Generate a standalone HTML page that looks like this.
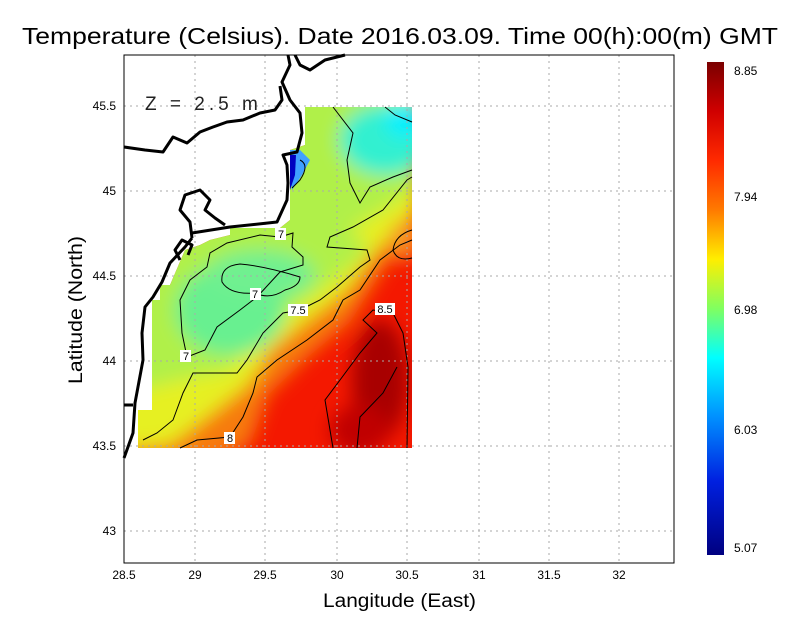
<!DOCTYPE html>
<html><head><meta charset="utf-8"><style>
body{margin:0;background:#fff}
svg{display:block;font-family:"Liberation Sans",sans-serif}
</style></head><body>
<svg width="800" height="618" viewBox="0 0 800 618" xmlns="http://www.w3.org/2000/svg">
<defs>
<filter id="b" x="-20%" y="-20%" width="140%" height="140%"><feGaussianBlur stdDeviation="9"/></filter>
<clipPath id="dc"><polygon points="138,448 138,410 152,410 152,300 160,300 160,285 170,285 185,250 200,245 210,240 230,235 230,228 280,228 290,220 290,150 305,145 305,107 412,107 412,448"/></clipPath>
<linearGradient id="cb" x1="0" y1="0" x2="0" y2="1">
<stop offset="0" stop-color="#7a0000"/><stop offset="0.1" stop-color="#d00000"/><stop offset="0.2" stop-color="#ff2a00"/><stop offset="0.3" stop-color="#ff7a00"/><stop offset="0.4" stop-color="#ffee00"/><stop offset="0.5" stop-color="#80ff60"/><stop offset="0.6" stop-color="#00ffff"/><stop offset="0.72" stop-color="#0090ff"/><stop offset="0.85" stop-color="#0020e0"/><stop offset="1" stop-color="#000080"/>
</linearGradient>
</defs>
<text x="22" y="44" font-size="23" textLength="756" lengthAdjust="spacingAndGlyphs">Temperature (Celsius). Date 2016.03.09. Time 00(h):00(m) GMT</text>
<g clip-path="url(#dc)">
<rect x="120" y="100" width="300" height="360" fill="#f41800"/>
<g filter="url(#b)">
<polygon points="100,470 200,470 250,445 268,395 310,355 350,322 388,262 420,245 420,60 100,60" fill="#f77a10"/>
<polygon points="100,450 170,445 210,415 248,385 270,350 305,322 345,292 375,252 420,205 420,60 100,60" fill="#e6f020"/>
<polygon points="100,400 180,380 230,370 260,335 300,305 340,275 370,250 350,230 390,205 420,185 420,60 100,60" fill="#b0f048"/>
<ellipse cx="230" cy="310" rx="55" ry="45" fill="#68f090"/>
<ellipse cx="260" cy="275" rx="55" ry="25" fill="#70f090"/>
<ellipse cx="385" cy="140" rx="45" ry="35" fill="#30f0d0"/>
<ellipse cx="405" cy="120" rx="20" ry="18" fill="#00f0ff"/>
<ellipse cx="380" cy="380" rx="28" ry="60" fill="#a80000"/>
<ellipse cx="360" cy="430" rx="30" ry="25" fill="#c00000"/>
<ellipse cx="405" cy="240" rx="15" ry="20" fill="#f89020"/>
</g>
<path d="M288,150 L300,150 L310,160 L302,175 L292,190 Z" fill="#40a0ff"/>
<path d="M289,155 L296,155 L295,175 L290,190 Z" fill="#0000c0"/>
</g>
<g stroke="#aaa" stroke-dasharray="2,4" stroke-width="1">
<line x1="195" y1="55" x2="195" y2="563"/><line x1="265" y1="55" x2="265" y2="563"/><line x1="337" y1="55" x2="337" y2="563"/><line x1="407" y1="55" x2="407" y2="563"/><line x1="479" y1="55" x2="479" y2="563"/><line x1="549" y1="55" x2="549" y2="563"/><line x1="619" y1="55" x2="619" y2="563"/>
<line x1="124" y1="106" x2="674" y2="106"/><line x1="124" y1="191" x2="674" y2="191"/><line x1="124" y1="276" x2="674" y2="276"/><line x1="124" y1="361" x2="674" y2="361"/><line x1="124" y1="446" x2="674" y2="446"/><line x1="124" y1="531" x2="674" y2="531"/>
</g>
<g fill="none" stroke="#000" stroke-width="1">
<polyline points="143,440 157,433 173,420 183,393 193,373 237,373 247,360 263,333 283,313 300,310 320,300 337,287 360,267 370,260 367,250 327,247 330,237 353,227 383,210 407,180 412,177"/>
<polyline points="180,448 197,440 230,437 243,417 253,393 257,377 277,360 307,340 333,320 343,300 360,290 380,260 400,245 412,240"/>
<path d="M412,230 Q395,235 393,250 Q397,262 412,258"/>
<polyline points="333,448 325,400 340,380 360,353 377,333 363,320 373,310 393,313 403,333 408,367 407,448"/>
<polyline points="357,448 360,417 383,393 397,367"/>
<polyline points="187,357 182,333 180,300 190,280 207,267 210,253 227,243 260,235 280,237 293,233 292,247 303,257 303,265 280,272 268,285 257,297 240,310 217,327 205,350 187,357"/>
<path d="M222,282 Q220,266 240,264 Q265,266 300,277 Q300,286 285,290 Q270,300 255,293 Q230,295 222,282 Z"/>
<polyline points="333,107 353,133 347,160 350,183 360,203 370,187 393,177 412,170"/>
<polyline points="385,107 395,115 412,122"/>
<path d="M300,160 Q310,165 300,180 L292,188" />
</g>
<g font-size="11" text-anchor="middle">
<rect x="275" y="228" width="11" height="12" fill="#fff"/><text x="281" y="238">7</text>
<rect x="250" y="288" width="11" height="12" fill="#fff"/><text x="255" y="298">7</text>
<rect x="180" y="350" width="11" height="12" fill="#fff"/><text x="186" y="360">7</text>
<rect x="288" y="304" width="20" height="12" fill="#fff"/><text x="298" y="314">7.5</text>
<rect x="224" y="432" width="11" height="12" fill="#fff"/><text x="230" y="442">8</text>
<rect x="375" y="303" width="20" height="12" fill="#fff"/><text x="385" y="313">8.5</text>
</g>
<g fill="none" stroke="#000" stroke-width="3" stroke-linejoin="round">
<polyline points="124,458 133,433 135,403 143,360 142,333 145,307 153,297 162,282 170,263 185,247 192,238"/>
<polyline points="192,233 230,227 277,222 287,200 288,183 287,165 283,155 297,152 302,133 300,113 290,100 282,82 290,65 288,55"/>
<polyline points="124,147 145,150 163,152 173,137 187,143 200,132 213,127 227,122 243,120 260,113 275,110 282,100 280,86"/>
<polyline points="192,238 190,222 180,210 185,195 200,190 210,200 205,210 215,218 225,225"/>
<polyline points="180,260 175,250 182,240 192,245 188,255"/>
<polyline points="295,55 300,65 310,70 325,60 345,55"/>
<polyline points="124,405 133,405"/>
</g>
<rect x="124" y="55" width="550" height="508" fill="none" stroke="#000" stroke-width="1"/>
<g font-size="12" text-anchor="middle">
<text x="124" y="579">28.5</text><text x="195" y="579">29</text><text x="265" y="579">29.5</text><text x="337" y="579">30</text><text x="407" y="579">30.5</text><text x="479" y="579">31</text><text x="549" y="579">31.5</text><text x="619" y="579">32</text>
</g>
<g font-size="12" text-anchor="end">
<text x="116" y="110">45.5</text><text x="116" y="195">45</text><text x="116" y="280">44.5</text><text x="116" y="365">44</text><text x="116" y="450">43.5</text><text x="116" y="535">43</text>
</g>
<text x="323" y="607" font-size="19" textLength="153" lengthAdjust="spacingAndGlyphs">Langitude (East)</text>
<text transform="translate(82,310) rotate(-90)" font-size="19" text-anchor="middle" textLength="148" lengthAdjust="spacingAndGlyphs">Latitude (North)</text>
<text x="145" y="110" font-size="19" letter-spacing="4" fill="#222">Z = 2.5 m</text>
<rect x="707" y="62" width="17" height="493" fill="url(#cb)"/>
<g font-size="12">
<text x="734" y="75">8.85</text><text x="734" y="201">7.94</text><text x="734" y="314">6.98</text><text x="734" y="434">6.03</text><text x="734" y="552">5.07</text>
</g>
</svg>
</body></html>
